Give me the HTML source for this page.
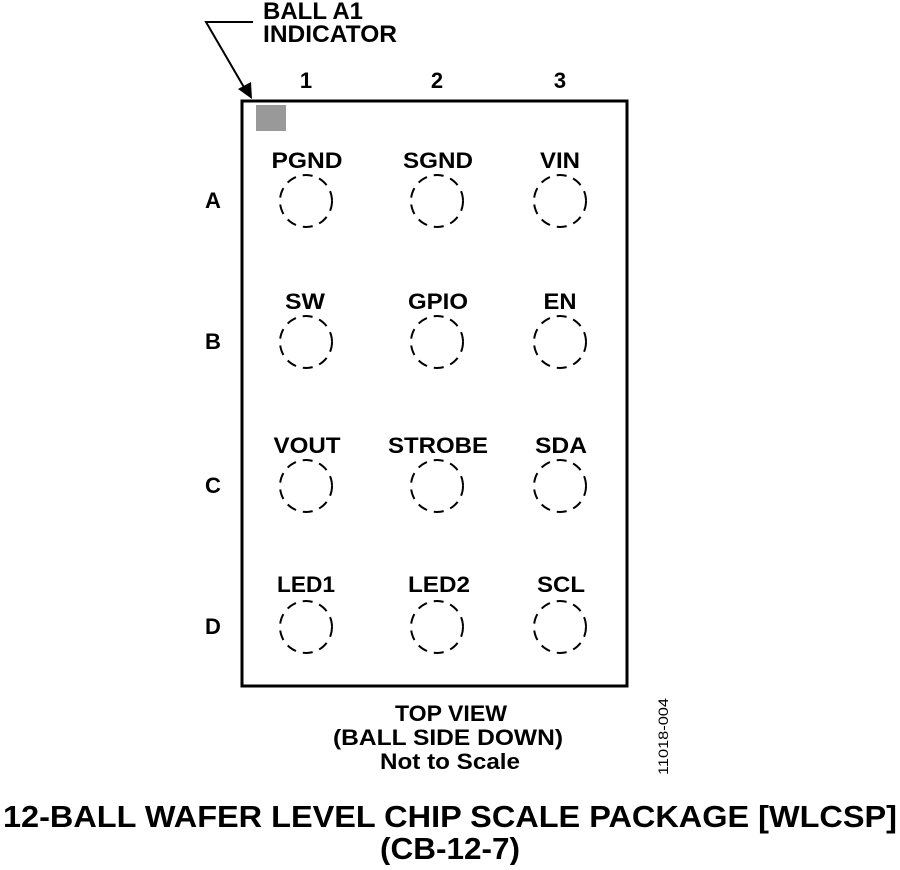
<!DOCTYPE html><html><head><style>body{margin:0;background:#fff}</style></head><body>
<svg width="900" height="865" xmlns="http://www.w3.org/2000/svg" font-family="Liberation Sans, Arial, sans-serif" font-weight="bold" fill="#000">
<rect x="242" y="101" width="385" height="585" fill="none" stroke="#000" stroke-width="3"/>
<rect x="256" y="105" width="30" height="26" fill="#999"/>
<polyline points="253,22 206,22 245,89" fill="none" stroke="#000" stroke-width="2"/>
<polygon points="252,99 238,89 251,82" fill="#000"/>
<text x="263" y="19" font-size="24" textLength="100" lengthAdjust="spacingAndGlyphs">BALL A1</text>
<text x="263" y="42" font-size="24" textLength="134" lengthAdjust="spacingAndGlyphs">INDICATOR</text>
<g font-size="22" text-anchor="middle">
<text x="306" y="88">1</text><text x="437" y="88">2</text><text x="560" y="88">3</text>
<text x="213" y="208">A</text><text x="213" y="349">B</text><text x="213" y="493">C</text><text x="213" y="634">D</text>
<text x="307" y="168" textLength="71" lengthAdjust="spacingAndGlyphs">PGND</text><text x="438" y="168" textLength="70" lengthAdjust="spacingAndGlyphs">SGND</text><text x="560" y="168" textLength="40" lengthAdjust="spacingAndGlyphs">VIN</text>
<text x="305" y="309" textLength="40" lengthAdjust="spacingAndGlyphs">SW</text><text x="438" y="309" textLength="60" lengthAdjust="spacingAndGlyphs">GPIO</text><text x="560" y="309" textLength="33" lengthAdjust="spacingAndGlyphs">EN</text>
<text x="307" y="453" textLength="67" lengthAdjust="spacingAndGlyphs">VOUT</text><text x="438" y="453" textLength="100" lengthAdjust="spacingAndGlyphs">STROBE</text><text x="561" y="453" textLength="52" lengthAdjust="spacingAndGlyphs">SDA</text>
<text x="306" y="592" textLength="58" lengthAdjust="spacingAndGlyphs">LED1</text><text x="439" y="592" textLength="62" lengthAdjust="spacingAndGlyphs">LED2</text><text x="561" y="592" textLength="48" lengthAdjust="spacingAndGlyphs">SCL</text>
<text x="451" y="721" textLength="112" lengthAdjust="spacingAndGlyphs">TOP VIEW</text><text x="448" y="745" textLength="230" lengthAdjust="spacingAndGlyphs">(BALL SIDE DOWN)</text><text x="450" y="769" textLength="140" lengthAdjust="spacingAndGlyphs">Not to Scale</text>
</g>
<g fill="none" stroke="#000" stroke-width="2" stroke-dasharray="10,7">
<circle cx="306" cy="201" r="26"/><circle cx="437" cy="201" r="26"/><circle cx="560" cy="201" r="26"/>
<circle cx="306" cy="342" r="26"/><circle cx="437" cy="342" r="26"/><circle cx="560" cy="342" r="26"/>
<circle cx="306" cy="486" r="26"/><circle cx="437" cy="486" r="26"/><circle cx="560" cy="486" r="26"/>
<circle cx="306" cy="627" r="26"/><circle cx="437" cy="627" r="26"/><circle cx="560" cy="627" r="26"/>
</g>
<text x="0" y="0" font-size="14" font-weight="normal" textLength="77" lengthAdjust="spacingAndGlyphs" transform="translate(668,775) rotate(-90)">11018-004</text>
<g font-size="31" text-anchor="middle">
<text x="450" y="827" textLength="894" lengthAdjust="spacingAndGlyphs">12-BALL WAFER LEVEL CHIP SCALE PACKAGE [WLCSP]</text>
<text x="450" y="859" textLength="140" lengthAdjust="spacingAndGlyphs">(CB-12-7)</text>
</g>
</svg>
</body></html>
